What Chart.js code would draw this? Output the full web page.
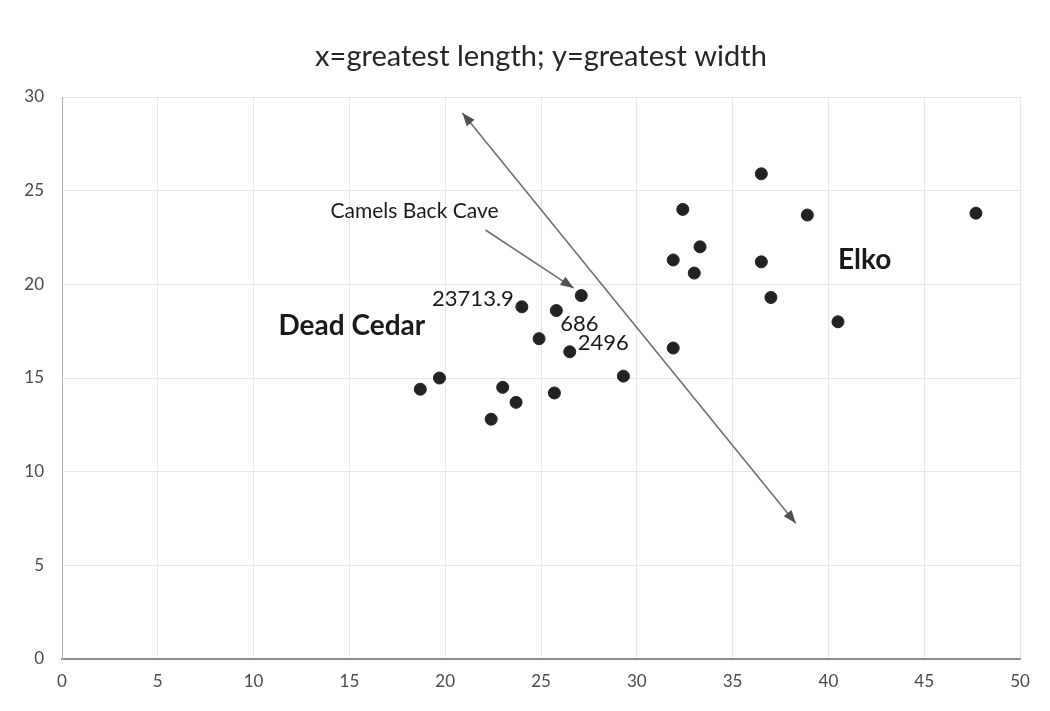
<!DOCTYPE html>
<html>
<head>
<meta charset="utf-8">
<script src="https://cdn.jsdelivr.net/npm/chart.js@4/dist/chart.umd.min.js"></script>
<style>
html,body{margin:0;padding:0;background:#fff;}
#wrap{width:1050px;height:711px;}
</style>
</head>
<body>
<div id="wrap"><canvas id="c" width="1050" height="711"></canvas></div>
<script>
// Data (greatest length, greatest width)
const lengthX = [18.7, 19.7, 23.0, 23.7, 22.4, 25.7, 24.9, 24.0, 25.8, 27.1, 26.5, 29.3,
                 31.9, 31.9, 32.4, 33.0, 33.3, 36.5, 36.5, 37.0, 38.9, 40.5, 47.7];
const widthY  = [14.4, 15.0, 14.5, 13.7, 12.8, 14.2, 17.1, 18.8, 18.6, 19.4, 16.4, 15.1,
                 16.6, 21.3, 24.0, 20.6, 22.0, 25.9, 21.2, 19.3, 23.7, 18.0, 23.8];
// point labels (index -> text)
const pointLabelIdx  = [7, 8, 10];
const pointLabelText = ["23713.9", "686", "2496"];
// annotation texts, in data units
const groupNames = ["Dead Cedar", "Elko"];
const groupX     = [11.3, 40.5];
const groupY     = [17.8, 21.3];
const caveText   = "Camels Back Cave";
const caveTextXY = [18.4, 23.9];
const caveArrow  = [[22.1, 22.9], [26.7, 19.8]];
const longArrow  = [[20.9, 29.15], [38.3, 7.25]];
const xTicks = [0, 5, 10, 15, 20, 25, 30, 35, 40, 45, 50];
const yTicks = [0, 5, 10, 15, 20, 25, 30];

const FONT = "Lato, 'Open Sans', sans-serif";

function arrowHead(ctx, x0, y0, x1, y1, len, wid) {
  const a = Math.atan2(y1 - y0, x1 - x0);
  ctx.beginPath();
  ctx.moveTo(x1, y1);
  ctx.lineTo(x1 - len*Math.cos(a) + wid*Math.sin(a), y1 - len*Math.sin(a) - wid*Math.cos(a));
  ctx.lineTo(x1 - len*Math.cos(a) - wid*Math.sin(a), y1 - len*Math.sin(a) + wid*Math.cos(a));
  ctx.closePath();
  ctx.fill();
}

const annot = {
  id: 'annot',
  afterDatasetsDraw(chart) {
    const ctx = chart.ctx, xs = chart.scales.x, ys = chart.scales.y;
    const px = v => xs.getPixelForValue(v), py = v => ys.getPixelForValue(v);
    ctx.save();
    ctx.strokeStyle = '#707070'; ctx.fillStyle = '#505050'; ctx.lineWidth = 1.6;
    const a0x = px(longArrow[0][0]), a0y = py(longArrow[0][1]);
    const a1x = px(longArrow[1][0]), a1y = py(longArrow[1][1]);
    ctx.beginPath(); ctx.moveTo(a0x, a0y); ctx.lineTo(a1x, a1y); ctx.stroke();
    arrowHead(ctx, a0x, a0y, a1x, a1y, 13, 5);
    arrowHead(ctx, a1x, a1y, a0x, a0y, 13, 5);
    const c0x = px(caveArrow[0][0]), c0y = py(caveArrow[0][1]);
    const c1x = px(caveArrow[1][0]), c1y = py(caveArrow[1][1]);
    ctx.beginPath(); ctx.moveTo(c0x, c0y); ctx.lineTo(c1x, c1y); ctx.stroke();
    arrowHead(ctx, c0x, c0y, c1x, c1y, 13, 5);
    ctx.fillStyle = '#1a1a1a';
    ctx.textBaseline = 'middle';
    ctx.font = "21px " + FONT; ctx.textAlign = 'center';
    ctx.fillText(caveText, px(caveTextXY[0]), py(caveTextXY[1]));
    ctx.font = "bold 28px " + FONT; ctx.textAlign = 'left';
    for (let i = 0; i < groupNames.length; i++) ctx.fillText(groupNames[i], px(groupX[i]), py(groupY[i]));
    ctx.font = "22px " + FONT;
    const offs = [[-8, -8, 'right'], [4, 13, 'left'], [8, -9, 'left']];
    for (let k = 0; k < pointLabelIdx.length; k++) {
      const i = pointLabelIdx[k];
      const x = px(lengthX[i]), y = py(widthY[i]);
      ctx.textAlign = offs[k][2];
      ctx.fillText(pointLabelText[k], x + offs[k][0], y + offs[k][1]);
    }
    ctx.restore();
  }
};

new Chart(document.getElementById('c'), {
  type: 'scatter',
  data: {
    datasets: [{
      data: lengthX.map((x, i) => ({x, y: widthY[i]})),
      backgroundColor: '#222222',
      borderColor: '#222222',
      pointRadius: 6,
      pointHoverRadius: 6
    }]
  },
  options: {
    responsive: false,
    animation: false,
    layout: { padding: { left: 0, right: 30, top: 0, bottom: 0 } },
    plugins: {
      legend: { display: false },
      tooltip: { enabled: false },
      title: {
        display: true,
        fullSize: false,
        text: 'x=greatest length; y=greatest width',
        color: '#262626',
        font: { family: FONT, size: 29, weight: 'normal' },
        padding: { top: 39, bottom: 23.2 }
      }
    },
    scales: {
      x: {
        type: 'linear', min: 0, max: 50,
        afterBuildTicks: s => { s.ticks = xTicks.map(v => ({value: v})); },
        afterFit: s => { s.height = 52; },
        grid: { color: '#e6e6e6', drawTicks: false },
        border: { color: '#8c8c8c', width: 2 },
        ticks: { color: '#4a4a4a', font: { family: FONT, size: 17 }, padding: 12 }
      },
      y: {
        type: 'linear', min: 0, max: 30,
        afterBuildTicks: s => { s.ticks = yTicks.map(v => ({value: v})); },
        afterFit: s => { s.width = 62; },
        grid: { color: '#e6e6e6', drawTicks: false },
        border: { color: '#b0b0b0', width: 1 },
        ticks: { color: '#4a4a4a', font: { family: FONT, size: 17 }, padding: 18 }
      }
    }
  },
  plugins: [annot]
});
</script>
</body>
</html>
